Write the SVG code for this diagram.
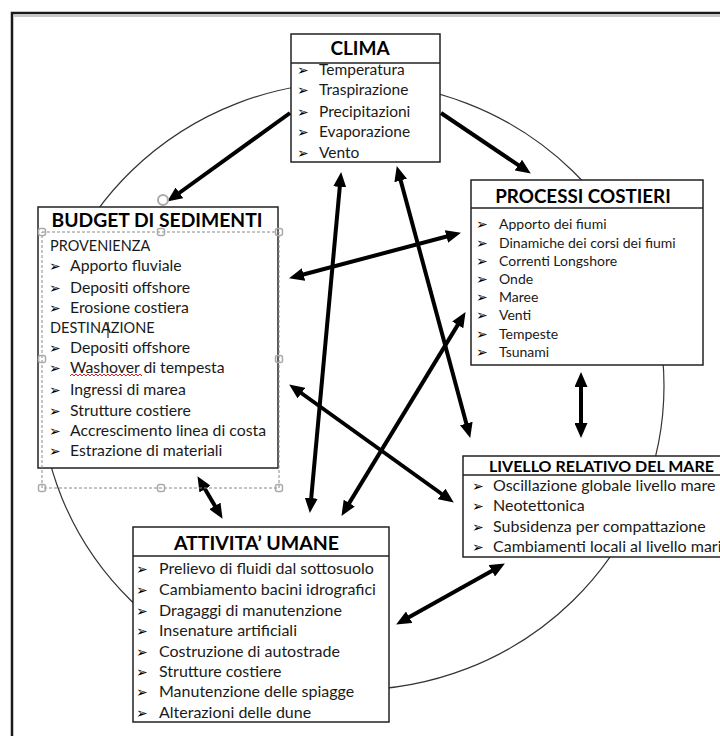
<svg xmlns="http://www.w3.org/2000/svg" width="720" height="736" viewBox="0 0 720 736">
<style>
.box{fill:#fff;stroke:#222;stroke-width:1.5}
.sep{stroke:#222;stroke-width:1.3}
.t{font-family:Lato,"Liberation Sans",sans-serif;fill:#1a1a1a}
.h{font-weight:bold;fill:#000}
.b{font-family:"DejaVu Sans",sans-serif;font-size:14px;fill:#000}
.ar{stroke:#000;stroke-width:4;fill:none}
.hd{fill:none;stroke:#aaa;stroke-width:1.5}
</style>
<defs>
<marker id="ah" markerUnits="userSpaceOnUse" markerWidth="15" markerHeight="13" refX="8" refY="6.5" orient="auto-start-reverse" viewBox="0 0 15 13">
<path d="M0,0 L15,6.5 L0,13 z" fill="#000"/>
</marker>
</defs>
<rect width="720" height="736" fill="#fff"/>
<path d="M12,740 V13 H730" fill="none" stroke="#1a1a1a" stroke-width="2.5"/>
<path d="M14,16 H730" fill="none" stroke="#c8c8c8" stroke-width="2"/>
<ellipse cx="352" cy="386" rx="312" ry="304" fill="none" stroke="#333" stroke-width="1.2"/>

<g id="clima">
<rect class="box" x="291" y="34" width="149" height="128"/>
<line class="sep" x1="291" y1="63" x2="440" y2="63"/>
<text class="t h" x="360" y="55" font-size="19" text-anchor="middle">CLIMA</text>
<g class="t" font-size="15.5">
<text y="75"><tspan class="b" x="297">➢</tspan><tspan x="319">Temperatura</tspan></text>
<text y="95"><tspan class="b" x="297">➢</tspan><tspan x="319">Traspirazione</tspan></text>
<text y="117"><tspan class="b" x="297">➢</tspan><tspan x="319">Precipitazioni</tspan></text>
<text y="137"><tspan class="b" x="297">➢</tspan><tspan x="319">Evaporazione</tspan></text>
<text y="158"><tspan class="b" x="297">➢</tspan><tspan x="319">Vento</tspan></text>
</g>
</g>

<g id="budget">
<rect class="box" x="38" y="207" width="240" height="261"/>
<text class="t h" x="157" y="227" font-size="19.3" text-anchor="middle">BUDGET DI SEDIMENTI</text>
<g class="t" font-size="15.8">
<text x="50" y="251" font-size="14.5">PROVENIENZA</text>
<text y="271"><tspan class="b" x="49">➢</tspan><tspan x="70">Apporto fluviale</tspan></text>
<text y="292.5"><tspan class="b" x="49">➢</tspan><tspan x="70">Depositi offshore</tspan></text>
<text y="313"><tspan class="b" x="49">➢</tspan><tspan x="70">Erosione costiera</tspan></text>
<text x="50" y="333" font-size="14.5">DESTINAZIONE</text>
<text y="353"><tspan class="b" x="49">➢</tspan><tspan x="70">Depositi offshore</tspan></text>
<text y="373"><tspan class="b" x="49">➢</tspan><tspan x="70">Washover di tempesta</tspan></text>
<text y="395"><tspan class="b" x="49">➢</tspan><tspan x="70">Ingressi di marea</tspan></text>
<text y="415.5"><tspan class="b" x="49">➢</tspan><tspan x="70">Strutture costiere</tspan></text>
<text y="436"><tspan class="b" x="49">➢</tspan><tspan x="70">Accrescimento linea di costa</tspan></text>
<text y="456"><tspan class="b" x="49">➢</tspan><tspan x="70">Estrazione di materiali</tspan></text>
</g>
</g>

<g id="processi">
<rect class="box" x="471" y="180" width="232" height="185"/>
<line class="sep" x1="471" y1="208" x2="703" y2="208"/>
<text class="t h" x="583" y="203" font-size="18.8" text-anchor="middle">PROCESSI COSTIERI</text>
<g class="t" font-size="14">
<text y="229"><tspan class="b" x="476">➢</tspan><tspan x="499">Apporto dei fiumi</tspan></text>
<text y="247.5"><tspan class="b" x="476">➢</tspan><tspan x="499">Dinamiche dei corsi dei fiumi</tspan></text>
<text y="266"><tspan class="b" x="476">➢</tspan><tspan x="499">Correnti Longshore</tspan></text>
<text y="283.5"><tspan class="b" x="476">➢</tspan><tspan x="499">Onde</tspan></text>
<text y="302"><tspan class="b" x="476">➢</tspan><tspan x="499">Maree</tspan></text>
<text y="320"><tspan class="b" x="476">➢</tspan><tspan x="499">Venti</tspan></text>
<text y="339"><tspan class="b" x="476">➢</tspan><tspan x="499">Tempeste</tspan></text>
<text y="357"><tspan class="b" x="476">➢</tspan><tspan x="499">Tsunami</tspan></text>
</g>
</g>

<g id="livello">
<rect class="box" x="463" y="456" width="270" height="101"/>
<line class="sep" x1="463" y1="475" x2="733" y2="475"/>
<text class="t h" x="489" y="472" font-size="16">LIVELLO RELATIVO DEL MARE</text>
<g class="t" font-size="16">
<text y="491"><tspan class="b" x="472">➢</tspan><tspan x="493">Oscillazione globale livello mare</tspan></text>
<text y="511"><tspan class="b" x="472">➢</tspan><tspan x="493">Neotettonica</tspan></text>
<text y="531.5"><tspan class="b" x="472">➢</tspan><tspan x="493">Subsidenza per compattazione</tspan></text>
<text y="552"><tspan class="b" x="472">➢</tspan><tspan x="493">Cambiamenti locali al livello mari</tspan></text>
</g>
</g>

<g id="attivita">
<rect class="box" x="133" y="527" width="256" height="195"/>
<line class="sep" x1="133" y1="556" x2="389" y2="556"/>
<text class="t h" x="256.5" y="550" font-size="19.5" text-anchor="middle">ATTIVITA’ UMANE</text>
<g class="t" font-size="16">
<text y="574"><tspan class="b" x="136">➢</tspan><tspan x="159">Prelievo di fluidi dal sottosuolo</tspan></text>
<text y="594.5"><tspan class="b" x="136">➢</tspan><tspan x="159">Cambiamento bacini idrografici</tspan></text>
<text y="615.5"><tspan class="b" x="136">➢</tspan><tspan x="159">Dragaggi di manutenzione</tspan></text>
<text y="636"><tspan class="b" x="136">➢</tspan><tspan x="159">Insenature artificiali</tspan></text>
<text y="657"><tspan class="b" x="136">➢</tspan><tspan x="159">Costruzione di autostrade</tspan></text>
<text y="677"><tspan class="b" x="136">➢</tspan><tspan x="159">Strutture costiere</tspan></text>
<text y="697"><tspan class="b" x="136">➢</tspan><tspan x="159">Manutenzione delle spiagge</tspan></text>
<text y="718"><tspan class="b" x="136">➢</tspan><tspan x="159">Alterazioni delle dune</tspan></text>
</g>
</g>

<g id="connectors">
<line class="ar" x1="290" y1="113" x2="172.9" y2="197.5" marker-end="url(#ah)"/>
<line class="ar" x1="441" y1="113" x2="525" y2="169.6" marker-end="url(#ah)"/>
<line class="ar" x1="295.8" y1="276.5" x2="454.2" y2="234.5" marker-start="url(#ah)" marker-end="url(#ah)"/>
<line class="ar" x1="310.5" y1="506" x2="340.5" y2="179" marker-start="url(#ah)" marker-end="url(#ah)"/>
<line class="ar" x1="398.6" y1="172.8" x2="468.4" y2="431.2" marker-start="url(#ah)" marker-end="url(#ah)"/>
<line class="ar" x1="461.9" y1="318.1" x2="345.1" y2="509.9" marker-start="url(#ah)" marker-end="url(#ah)"/>
<line class="ar" x1="294.9" y1="388.5" x2="448.1" y2="498.5" marker-start="url(#ah)" marker-end="url(#ah)"/>
<line class="ar" x1="201" y1="482.2" x2="219" y2="512.8" marker-start="url(#ah)" marker-end="url(#ah)"/>
<line class="ar" x1="581" y1="379" x2="581" y2="431" marker-start="url(#ah)" marker-end="url(#ah)"/>
<line class="ar" x1="402.2" y1="621.1" x2="498.8" y2="566.9" marker-start="url(#ah)" marker-end="url(#ah)"/>
</g>

<g id="selection">
<rect x="42" y="232" width="237" height="256" fill="none" stroke="#888" stroke-width="1" stroke-dasharray="3,2"/>
<rect class="hd" x="38.5" y="228.5" width="7" height="7" rx="2" fill="#fff"/>
<rect class="hd" x="157.5" y="228.5" width="7" height="7" rx="2" fill="#fff"/>
<rect class="hd" x="275.5" y="228.5" width="7" height="7" rx="2" fill="#fff"/>
<rect class="hd" x="38.5" y="355.5" width="7" height="7" rx="2" fill="#fff"/>
<rect class="hd" x="275.5" y="355.5" width="7" height="7" rx="2" fill="#fff"/>
<rect class="hd" x="38.5" y="484.5" width="7" height="7" rx="2" fill="#fff"/>
<rect class="hd" x="157.5" y="484.5" width="7" height="7" rx="2" fill="#fff"/>
<rect class="hd" x="275.5" y="484.5" width="7" height="7" rx="2" fill="#fff"/>
<circle cx="163" cy="200" r="5" fill="none" stroke="#aaa" stroke-width="2"/>
<line x1="108" y1="322" x2="108" y2="338" stroke="#000" stroke-width="1"/>
<path d="M70,376 l2,-2 l2,2 l2,-2 l2,2 l2,-2 l2,2 l2,-2 l2,2 l2,-2 l2,2 l2,-2 l2,2 l2,-2 l2,2 l2,-2 l2,2 l2,-2 l2,2 l2,-2 l2,2 l2,-2 l2,2 l2,-2 l2,2 l2,-2 l2,2 l2,-2 l2,2 l2,-2 l2,2 l2,-2 l2,2 l2,-2 l2,2 l2,-2 l2,2" fill="none" stroke="#e02020" stroke-width="1"/>
</g>
</svg>
